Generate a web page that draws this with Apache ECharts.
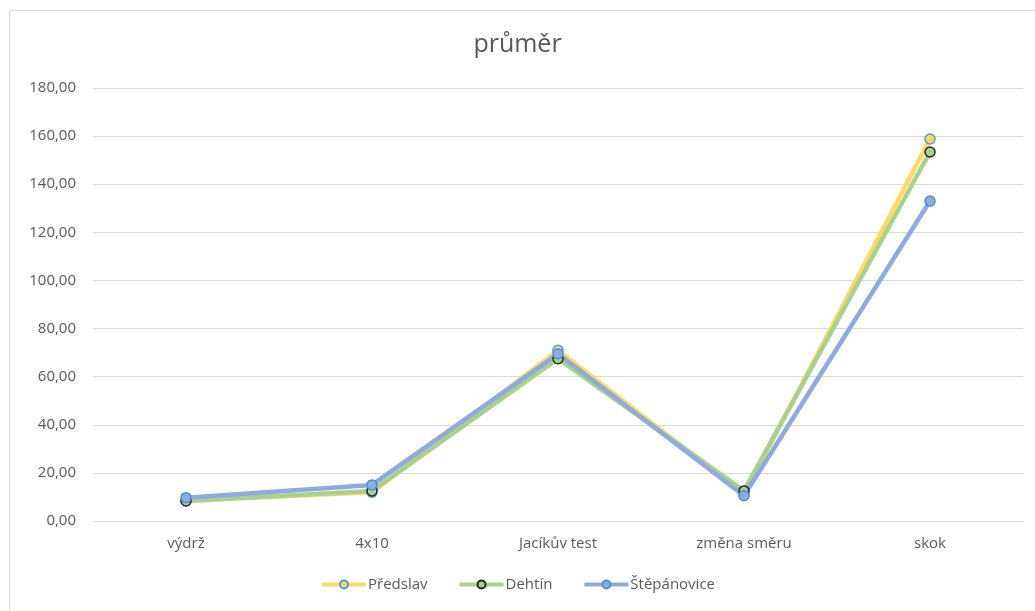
<!DOCTYPE html>
<html>
<head>
<meta charset="utf-8">
<script src="https://cdn.jsdelivr.net/npm/echarts@6/dist/echarts.min.js"></script>
<style>
  html, body { margin: 0; padding: 0; background: #fff; }
  #chart { width: 1035px; height: 611px; }
</style>
</head>
<body>
<div id="chart"></div>
<script>
// Disciplíny a průměrné výsledky jednotlivých škol
const categories = ['výdrž', '4x10', 'Jacíkův test', 'změna směru', 'skok'];
const predslav = [8.5, 12.0, 71.0, 11.0, 158.8];
const dehtin = [8.3, 12.5, 67.5, 12.5, 153.4];
const stepanovice = [9.7, 15.0, 69.5, 10.5, 133.0];

const textColor = '#595959';
const fontFamily = '"Open Sans", "Noto Sans", sans-serif';

function lineSeries(name, data, lineColor, fill, border) {
  return {
    name: name,
    type: 'line',
    data: data,
    symbol: 'circle',
    symbolSize: 10,
    lineStyle: { color: lineColor, width: 4.5 },
    itemStyle: { color: fill, borderColor: border, borderWidth: 1.5 },
    emphasis: { disabled: true }
  };
}

const chart = echarts.init(document.getElementById('chart'));
chart.setOption({
  animation: false,
  textStyle: { fontFamily: fontFamily },
  graphic: [{
    type: 'rect',
    shape: { x: 9.5, y: 10.5, width: 1030, height: 610 },
    style: { fill: 'none', stroke: '#d9d9d9', lineWidth: 1 },
    silent: true
  }],
  title: {
    text: 'průměr',
    left: 'center',
    top: 27,
    textStyle: { color: textColor, fontSize: 25, fontWeight: 'normal', fontFamily: fontFamily }
  },
  legend: {
    bottom: 14,
    left: 'center',
    itemWidth: 44,
    itemHeight: 10,
    itemGap: 30,
    lineStyle: { width: 4 },
    textStyle: { color: textColor, fontSize: 15, padding: [0, 0, 0, -3] },
    data: ['Předslav', 'Dehtín', 'Štěpánovice']
  },
  grid: { left: 93, right: 12, top: 88, bottom: 90, containLabel: false },
  xAxis: {
    type: 'category',
    data: categories,
    boundaryGap: true,
    axisLine: { lineStyle: { color: '#d9d9d9' } },
    axisTick: { show: false },
    axisLabel: { color: textColor, fontSize: 15, margin: 15 }
  },
  yAxis: {
    type: 'value',
    min: 0,
    max: 180,
    interval: 20,
    axisLine: { show: false },
    axisTick: { show: false },
    splitLine: { lineStyle: { color: '#d9d9d9' } },
    axisLabel: {
      color: textColor,
      fontSize: 15,
      margin: 17,
      formatter: v => v.toFixed(2).replace('.', ',')
    }
  },
  series: [
    lineSeries('Předslav', predslav, '#FFD966', '#FFD966', '#4A9BD8'),
    lineSeries('Dehtín', dehtin, '#A9D18E', '#A9D18E', '#262626'),
    lineSeries('Štěpánovice', stepanovice, '#8FAADC', '#8FAADC', '#4A90D8')
  ]
});
</script>
</body>
</html>
